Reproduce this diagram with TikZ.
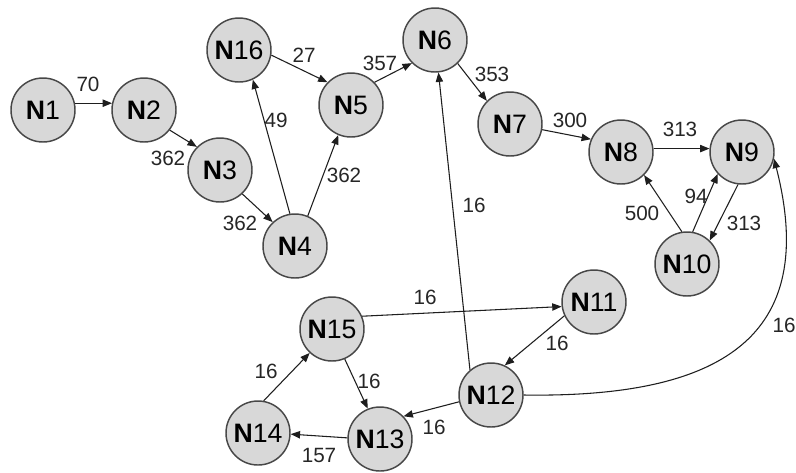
\documentclass[tikz,border=0pt]{standalone}
\usepackage{fontspec}
\setmainfont{Liberation Sans}
\usetikzlibrary{arrows.meta}
\definecolor{nodefill}{HTML}{D8D8D8}
\definecolor{nodeedge}{HTML}{474747}
\definecolor{linkcol}{HTML}{1E1E1E}
\definecolor{wtcol}{HTML}{262626}
\newcommand{\nname}[1]{\textbf{N}#1}
\begin{document}
\begin{tikzpicture}[x=0.75pt,y=-0.75pt,
  vertex/.style={circle,draw=nodeedge,fill=nodefill,line width=1.1pt,
    minimum size=48pt,inner sep=0pt,text=black,
    font=\fontsize{20}{20}\selectfont},
  link/.style={draw=linkcol,line width=0.8pt,
    -{Triangle[length=7pt,width=5.5pt]}},
  wt/.style={font=\fontsize{15.5}{15.5}\selectfont,inner sep=0pt,text=wtcol}]
\path[use as bounding box,fill=white] (0,0) rectangle (796,472);

% vertices
\node[vertex] (N1)  at (43,110)  {\nname{1}};
\node[vertex] (N2)  at (144,110) {\nname{2}};
\node[vertex] (N3)  at (220,170) {\nname{3}};
\node[vertex] (N4)  at (295,246) {\nname{4}};
\node[vertex] (N16) at (239,50)  {\nname{16}};
\node[vertex] (N5)  at (351,105) {\nname{5}};
\node[vertex] (N6)  at (435,40)  {\nname{6}};
\node[vertex] (N7)  at (510,124) {\nname{7}};
\node[vertex] (N8)  at (621,152) {\nname{8}};
\node[vertex] (N9)  at (742,152) {\nname{9}};
\node[vertex] (N10) at (687,264) {\nname{10}};
\node[vertex] (N11) at (594,302) {\nname{11}};
\node[vertex] (N12) at (491,395) {\nname{12}};
\node[vertex] (N15) at (332,329) {\nname{15}};
\node[vertex] (N13) at (380,439) {\nname{13}};
\node[vertex] (N14) at (258,433) {\nname{14}};

% links
\draw[link] (N1.12)   -- (N2.168);
\draw[link] (N2.-38)  -- (N3.135);
\draw[link] (N3.-47)  -- (N4.133);
\draw[link] (N4.99)   -- (N16.295);
\draw[link] (N4.67)   -- (N5.247);
\draw[link] (N16.-9)  -- (N5.136);
\draw[link] (N5.44)   -- (N6.225);
\draw[link] (N6.-46)  -- (N7.135);
\draw[link] (N7.-10)  -- (N8.157);
\draw[link] (N8.6)    -- (N9.174);
\draw[link] (N10.99)  -- (N8.-45);
\draw[link] (N10.80)  -- (N9.222);
\draw[link] (N9.263)  -- (N10.46);
\draw[link] (N12.130) -- (N6);
\draw[link] (N15.23)  -- (N11.188);
\draw[link] (N11.205) -- (N12.65);
\draw[link] (N12.192) -- (N13.44);
\draw[link] (N15.-67) -- (N13.112);
\draw[link] (N13.178) -- (N14.-2);
\draw[link] (N14.80)  -- (N15.227);
\draw[link] (N12.east) .. controls (720,398) and (820,338) .. (N9.-12);

% weights
\node[wt] (w1)  at (88,84)   {70};
\node[wt] (w2)  at (168,158) {362};
\node[wt] (w3)  at (240,223) {362};
\node[wt] (w4)  at (276,120) {49};
\node[wt] (w5)  at (344,175) {362};
\node[wt] (w6)  at (304,55)  {27};
\node[wt] (w7)  at (380,63)  {357};
\node[wt] (w8)  at (492,74)  {353};
\node[wt] (w9)  at (570,120) {300};
\node[wt] (w10) at (680,129) {313};
\node[wt] (w11) at (696,196) {94};
\node[wt] (w12) at (642,213) {500};
\node[wt] (w13) at (744,223) {313};
\node[wt] (w14) at (474,205) {16};
\node[wt] (w15) at (425,297) {16};
\node[wt] (w16) at (557,343) {16};
\node[wt] (w17) at (369,381) {16};
\node[wt] (w18) at (434,427) {16};
\node[wt] (w19) at (319,455) {157};
\node[wt] (w20) at (266,371) {16};
\node[wt] (w21) at (784,325) {16};
\end{tikzpicture}
\end{document}
